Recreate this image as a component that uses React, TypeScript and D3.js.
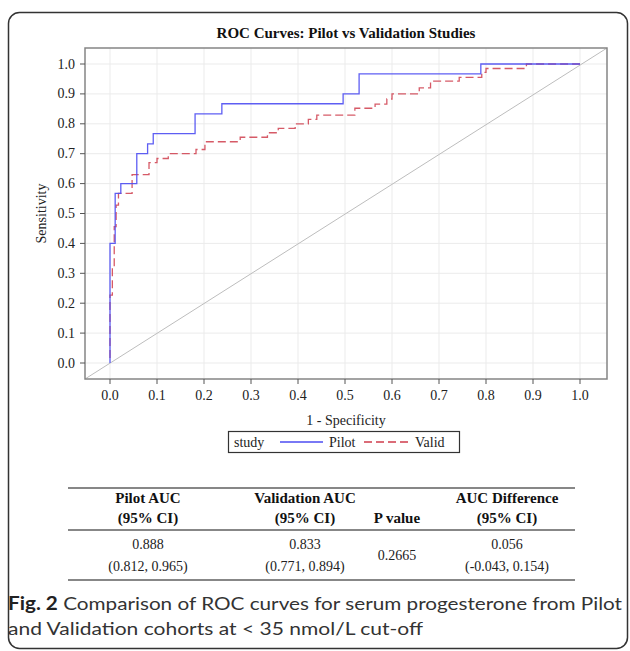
import React from "react";
import * as d3 from "d3";

// ROC vertices (fpr, tpr), drawn with a step-after curve
const pilotFpr = [0, 0, 0.011, 0.023, 0.057, 0.080, 0.092, 0.181, 0.238, 0.496, 0.530, 0.789, 1.0];
const pilotTpr = [0, 0.4, 0.567, 0.6, 0.7, 0.733, 0.767, 0.833, 0.867, 0.9, 0.967, 1.0, 1.0];

const validFpr = [0, 0, 0.005, 0.009, 0.013, 0.018, 0.047, 0.083, 0.10, 0.124, 0.183, 0.202, 0.277, 0.335, 0.358, 0.394, 0.422, 0.44, 0.521, 0.564, 0.589, 0.60, 0.658, 0.682, 0.743, 0.791, 0.80, 0.886, 1.0];
const validTpr = [0.017, 0.227, 0.318, 0.456, 0.528, 0.567, 0.63, 0.67, 0.684, 0.70, 0.714, 0.740, 0.755, 0.770, 0.785, 0.80, 0.815, 0.829, 0.852, 0.866, 0.883, 0.90, 0.92, 0.943, 0.955, 0.972, 0.985, 1.0, 1.0];

const ticks = [0, 0.1, 0.2, 0.3, 0.4, 0.5, 0.6, 0.7, 0.8, 0.9, 1.0];

const tableHead1 = ["Pilot AUC", "Validation AUC", "", "AUC Difference"];
const tableHead2 = ["(95% CI)", "(95% CI)", "P value", "(95% CI)"];
const tableRow1 = ["0.888", "0.833", "", "0.056"];
const tableRow2 = ["(0.812, 0.965)", "(0.771, 0.894)", "", "(-0.043, 0.154)"];
const pValue = "0.2665";

const W = 630;
const H = 651;
const serif = "'Liberation Serif', 'DejaVu Serif', serif";
const sans = "Lato, 'Open Sans', sans-serif";

export default function App() {
  // frame edges
  const fl = 85, fr = 607, ft = 48, fb = 379;
  const x = d3.scaleLinear().domain([0, 1]).range([110, 580]);
  const y = d3.scaleLinear().domain([0, 1]).range([363, 64]);

  const line = d3.line<[number, number]>()
    .x(d => x(d[0]))
    .y(d => y(d[1]))
    .curve(d3.curveStepAfter);

  const pilotPath = line(pilotFpr.map((f, i) => [f, pilotTpr[i]]));
  const validPath = line(validFpr.map((f, i) => [f, validTpr[i]]));

  const colX = [148, 305, 397, 507];

  return (
    <svg width={W} height={H} style={{ position: "absolute", left: 0, top: 0 }}>
      <rect x={0} y={0} width={W} height={H} fill="#fff" />
      <rect x={8.5} y={12.5} width={619} height={636} rx={11} fill="none" stroke="#333" strokeWidth={1.5} />

      <text x={346} y={38} textAnchor="middle" fontFamily={serif} fontWeight="bold" fontSize={15} fill="#111">
        ROC Curves: Pilot vs Validation Studies
      </text>

      {/* grid */}
      {ticks.map(t => (
        <g key={"g" + t}>
          <line x1={x(t)} x2={x(t)} y1={ft} y2={fb} stroke="#ebebeb" strokeWidth={1} />
          <line x1={fl} x2={fr} y1={y(t)} y2={y(t)} stroke="#ebebeb" strokeWidth={1} />
        </g>
      ))}

      {/* diagonal reference */}
      <line x1={fl} y1={fb} x2={fr} y2={ft} stroke="#bdbdbd" strokeWidth={1} />

      <path d={validPath ?? ""} fill="none" stroke="#cf3d4c" strokeWidth={1.3} strokeDasharray="8,4" opacity={0.85} />
      <path d={pilotPath ?? ""} fill="none" stroke="#4c4cf2" strokeWidth={1.3} opacity={0.9} />

      <rect x={fl} y={ft} width={fr - fl} height={fb - ft} fill="none" stroke="#858585" strokeWidth={1.5} />

      {/* axes */}
      {ticks.map(t => (
        <g key={"x" + t}>
          <line x1={x(t)} x2={x(t)} y1={fb} y2={fb + 5} stroke="#555" />
          <text x={x(t)} y={400} textAnchor="middle" fontFamily={serif} fontSize={14} fill="#222">
            {t.toFixed(1)}
          </text>
          <line x1={fl - 5} x2={fl} y1={y(t)} y2={y(t)} stroke="#555" />
          <text x={75} y={y(t) + 4.5} textAnchor="end" fontFamily={serif} fontSize={14} fill="#222">
            {t.toFixed(1)}
          </text>
        </g>
      ))}
      <text x={346} y={425} textAnchor="middle" fontFamily={serif} fontSize={14} fill="#222">1 - Specificity</text>
      <text transform={`translate(46,${(ft + fb) / 2}) rotate(-90)`} textAnchor="middle" fontFamily={serif} fontSize={14} fill="#222">
        Sensitivity
      </text>

      {/* legend */}
      <rect x={228.5} y={431.5} width={231} height={21} fill="#fff" stroke="#333" strokeWidth={1.2} />
      <text x={234} y={447} fontFamily={serif} fontSize={14} fill="#222">study</text>
      <line x1={280} x2={323} y1={442} y2={442} stroke="#4c4cf2" strokeWidth={1.3} />
      <text x={329} y={447} fontFamily={serif} fontSize={14} fill="#222">Pilot</text>
      <line x1={364} x2={409} y1={442} y2={442} stroke="#cf3d4c" strokeWidth={1.3} strokeDasharray="8,4" />
      <text x={415} y={447} fontFamily={serif} fontSize={14} fill="#222">Valid</text>

      {/* table */}
      <line x1={68} x2={575} y1={488} y2={488} stroke="#111" strokeWidth={1.2} />
      <line x1={68} x2={575} y1={530} y2={530} stroke="#111" strokeWidth={1.2} />
      <line x1={68} x2={575} y1={580} y2={580} stroke="#111" strokeWidth={1.2} />
      {colX.map((cx, i) => (
        <g key={"c" + i} fontFamily={serif} textAnchor="middle" fill="#111">
          <text x={cx} y={503} fontWeight="bold" fontSize={15}>{tableHead1[i]}</text>
          <text x={cx} y={523} fontWeight="bold" fontSize={15}>{tableHead2[i]}</text>
          <text x={cx} y={549} fontSize={14} fill="#222">{tableRow1[i]}</text>
          <text x={cx} y={571} fontSize={14} fill="#222">{tableRow2[i]}</text>
        </g>
      ))}
      <text x={colX[2]} y={560} textAnchor="middle" fontFamily={serif} fontSize={14} fill="#222">{pValue}</text>

      {/* caption */}
      <text x={8} y={610} fontFamily={sans} fontSize={18} fill="#333"
        textLength={614} lengthAdjust="spacingAndGlyphs">
        <tspan fontWeight="bold" fill="#222">Fig. 2</tspan> Comparison of ROC curves for serum progesterone from Pilot
      </text>
      <text x={8} y={635} fontFamily={sans} fontSize={18} fill="#333"
        textLength={415} lengthAdjust="spacingAndGlyphs">
        and Validation cohorts at &lt; 35 nmol/L cut-off
      </text>
    </svg>
  );
}
